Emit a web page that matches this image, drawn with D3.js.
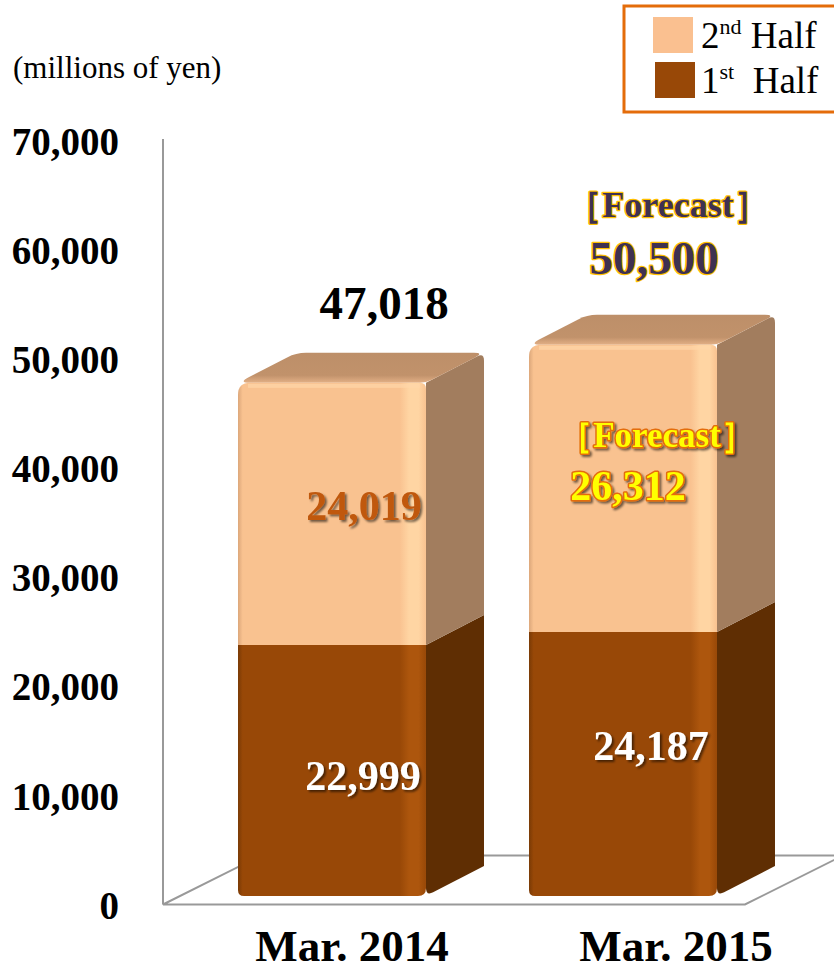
<!DOCTYPE html>
<html>
<head>
<meta charset="utf-8">
<script src="https://cdn.jsdelivr.net/npm/d3@7"></script>
<style>
  body { margin: 0; background: #fff; }
  svg { display: block; }
  text { font-family: "Liberation Serif", "Times New Roman", serif; }
</style>
</head>
<body>
<script>
// chart values
var categories = ["Mar. 2014", "Mar. 2015"];
var firstHalf = [22999, 24187];
var secondHalf = [24019, 26312];
var totals = [47018, 50500];
var yTicks = [0, 10000, 20000, 30000, 40000, 50000, 60000, 70000];
var legendLabels = [["2", "nd", " Half"], ["1", "st", "  Half"]];

var width = 834, height = 973;

var svg = d3.select("body").append("svg")
    .attr("width", width)
    .attr("height", height);

var defs = svg.append("defs");

// drop shadow for data labels
var shadow = defs.append("filter").attr("id", "shadow")
    .attr("x", "-20%").attr("y", "-20%").attr("width", "140%").attr("height", "140%");
shadow.append("feDropShadow")
    .attr("dx", 2).attr("dy", 2).attr("stdDeviation", 1)
    .attr("flood-color", "#000").attr("flood-opacity", 0.55);

function hGrad(id, edge, base, hi) {
  var g = defs.append("linearGradient").attr("id", id)
      .attr("x1", "0%").attr("x2", "100%").attr("y1", "0%").attr("y2", "0%");
  [[0, edge], [0.025, base], [0.86, base], [0.91, hi], [0.96, hi], [1, base]].forEach(function(s) {
    g.append("stop").attr("offset", s[0]).attr("stop-color", s[1]);
  });
}
hGrad("front1", "#7a3a05", "#984807", "#ad560d");
hGrad("front2", "#dca77a", "#f9c290", "#ffd5a3");

var topGrad = defs.append("linearGradient").attr("id", "topface")
    .attr("x1", "0%").attr("x2", "0%").attr("y1", "0%").attr("y2", "100%");
[[0, "#bd8f69"], [0.75, "#c1926b"], [1, "#e3b086"]].forEach(function(s) {
  topGrad.append("stop").attr("offset", s[0]).attr("stop-color", s[1]);
});

// scales
var yAxis = d3.scaleLinear().domain([0, 70000]).range([905, 141]);
var yBar = d3.scaleLinear().domain([0, 70000]).range([896, 132]);
var x = d3.scaleBand().domain(categories)
    .range([186.5, 768.5]).paddingInner(0.354).paddingOuter(0.177);
var xLabel = d3.scaleBand().domain(categories).range([190, 838]);

var depth = [58, -30];      // bar depth
var floorDepth = [98, -49]; // floor depth

// y tick labels
svg.append("g").selectAll("text")
  .data(yTicks)
  .join("text")
    .attr("x", 119)
    .attr("y", function(d) { return yAxis(d); })
    .attr("dy", "0.35em")
    .attr("text-anchor", "end")
    .style("font-size", "39px")
    .style("font-weight", "bold")
    .text(function(d) { return d3.format(",")(d); });

svg.append("text")
    .attr("x", 13).attr("y", 78)
    .style("font-size", "31px")
    .text("(millions of yen)");

// axis line and floor
var fl = 163, fr = 745, fy = yAxis(0) - 0.5;
svg.append("line")
    .attr("x1", fl).attr("x2", fl).attr("y1", yAxis(70000) - 2).attr("y2", fy)
    .attr("stroke", "#999").attr("stroke-width", 2);
svg.append("path")
    .attr("d", "M" + fl + "," + fy + "L" + fr + "," + fy +
      "L" + (fr + floorDepth[0]) + "," + (fy + floorDepth[1]) +
      "L" + (fl + floorDepth[0]) + "," + (fy + floorDepth[1]) + "Z")
    .attr("fill", "none").attr("stroke", "#999").attr("stroke-width", 2);

// polygon with rounded corners
function roundPoly(pts, r) {
  var n = pts.length, d = "";
  for (var i = 0; i < n; i++) {
    var p0 = pts[(i - 1 + n) % n], p = pts[i], p1 = pts[(i + 1) % n];
    var rr = p[2] == null ? r : p[2];
    var a = toward(p, p0, rr), b = toward(p, p1, rr);
    d += (i === 0 ? "M" : "L") + a[0] + "," + a[1] + "Q" + p[0] + "," + p[1] + " " + b[0] + "," + b[1];
  }
  return d + "Z";
}
function toward(p, q, r) {
  var dx = q[0] - p[0], dy = q[1] - p[1], len = Math.sqrt(dx * dx + dy * dy);
  var t = Math.min(r, len / 2) / len;
  return [p[0] + dx * t, p[1] + dy * t];
}

var bars = svg.append("g").selectAll("g")
  .data(categories)
  .join("g");

bars.each(function(c, i) {
  var g = d3.select(this);
  var x0 = x(c), x1 = x(c) + x.bandwidth();
  var dx = depth[0], dy = depth[1];
  var segs = [
    {v0: 0, v1: firstHalf[i], front: "url(#front1)", side: "#5f2e03"},
    {v0: firstHalf[i], v1: firstHalf[i] + secondHalf[i], front: "url(#front2)", side: "#a27d5e"}
  ];
  segs.forEach(function(s, k) {
    var yb = yBar(s.v0), yt = yBar(s.v1);
    var isTop = k === segs.length - 1, isBot = k === 0;
    // side face
    g.append("path")
      .attr("d", roundPoly([[x1, yt, 0], [x1 + dx, yt + dy, isTop ? 8 : 0],
        [x1 + dx, yb + dy, 0], [x1, yb, isBot ? 8 : 0]], 0))
      .attr("fill", s.side);
    if (isTop) {
      g.append("path")
        .attr("d", roundPoly([[x0, yt, 12], [x0 + dx, yt + dy, 10],
          [x1 + dx, yt + dy, 10], [x1, yt, 6]], 0))
        .attr("fill", "url(#topface)");
    }
    // front face
    g.append("path")
      .attr("d", roundPoly([[x0, yt, isTop ? 12 : 0], [x1, yt, isTop ? 6 : 0],
        [x1, yb, isBot ? 8 : 0], [x0, yb, isBot ? 6 : 0]], 0))
      .attr("fill", s.front);
    if (isTop) {
      g.append("rect")
        .attr("x", x0 + 10).attr("y", yt + 1).attr("width", x1 - x0 - 16).attr("height", 4)
        .attr("fill", "#ffd6a8").attr("opacity", 0.7);
    }
  });
});

// category labels
svg.append("g").selectAll("text")
  .data(categories)
  .join("text")
    .attr("x", function(d) { return xLabel(d) + xLabel.bandwidth() / 2; })
    .attr("y", 961)
    .attr("text-anchor", "middle")
    .style("font-size", "45px")
    .style("font-weight", "bold")
    .text(function(d) { return d; });

// data labels
function label(txt, cx, cy, size, fill, stroke, sw, filt) {
  var t = svg.append("text")
      .attr("x", cx).attr("y", cy)
      .attr("text-anchor", "middle")
      .style("font-size", size + "px")
      .style("font-weight", "bold")
      .attr("fill", fill)
      .text(txt);
  if (stroke) t.attr("stroke", stroke).attr("stroke-width", sw)
      .attr("stroke-linejoin", "round").style("paint-order", "stroke");
  if (filt) t.attr("filter", "url(#shadow)");
  return t;
}
var fmt = d3.format(",");
var cx1 = x(categories[0]) + x.bandwidth() / 2;
var cx2 = x(categories[1]) + x.bandwidth() / 2;

label(fmt(totals[0]), cx1 + 52, yBar(totals[0]) - 64, 47, "#000");
label("［Forecast］", cx2 + 45, yBar(totals[1]) - 128, 36, "#3f3151", "#ffc000", 2.5);
label(fmt(totals[1]), cx2 + 31, yBar(totals[1]) - 71, 47, "#3f3151", "#ffc000", 2.5);

label(fmt(secondHalf[0]), cx1 + 32, 520, 42, "#c0590f", null, 0, true);
label("［Forecast］", cx2 + 34, 447, 35, "#ffff00", "#e46c0a", 3, true);
label(fmt(secondHalf[1]), cx2 + 5, 500, 42, "#ffff00", "#e46c0a", 3, true);
label(fmt(firstHalf[0]), cx1 + 31, 790, 42, "#fff", null, 0, true);
label(fmt(firstHalf[1]), cx2 + 28, 760, 42, "#fff", null, 0, true);

// legend
var legend = svg.append("g");
legend.append("rect")
    .attr("x", 624).attr("y", 6).attr("width", 220).attr("height", 106)
    .attr("fill", "#fff").attr("stroke", "#e46c0a").attr("stroke-width", 3);
var legendColors = ["#fac090", "#984807"];
legend.selectAll("rect.sw")
  .data(legendColors)
  .join("rect")
    .attr("class", "sw")
    .attr("x", function(d, i) { return 653 + i * 2; })
    .attr("y", function(d, i) { return 17 + i * 45; })
    .attr("width", 40).attr("height", 36)
    .attr("fill", function(d) { return d; });
var lt = legend.selectAll("text")
  .data(legendLabels)
  .join("text")
    .attr("x", 701)
    .attr("y", function(d, i) { return 48 + i * 45; })
    .attr("xml:space", "preserve")
    .style("font-size", "37px");
lt.append("tspan").text(function(d) { return d[0]; });
lt.append("tspan").attr("dy", -14).style("font-size", "22px").text(function(d) { return d[1]; });
lt.append("tspan").attr("dy", 14).text(function(d) { return d[2]; });
</script>
</body>
</html>
